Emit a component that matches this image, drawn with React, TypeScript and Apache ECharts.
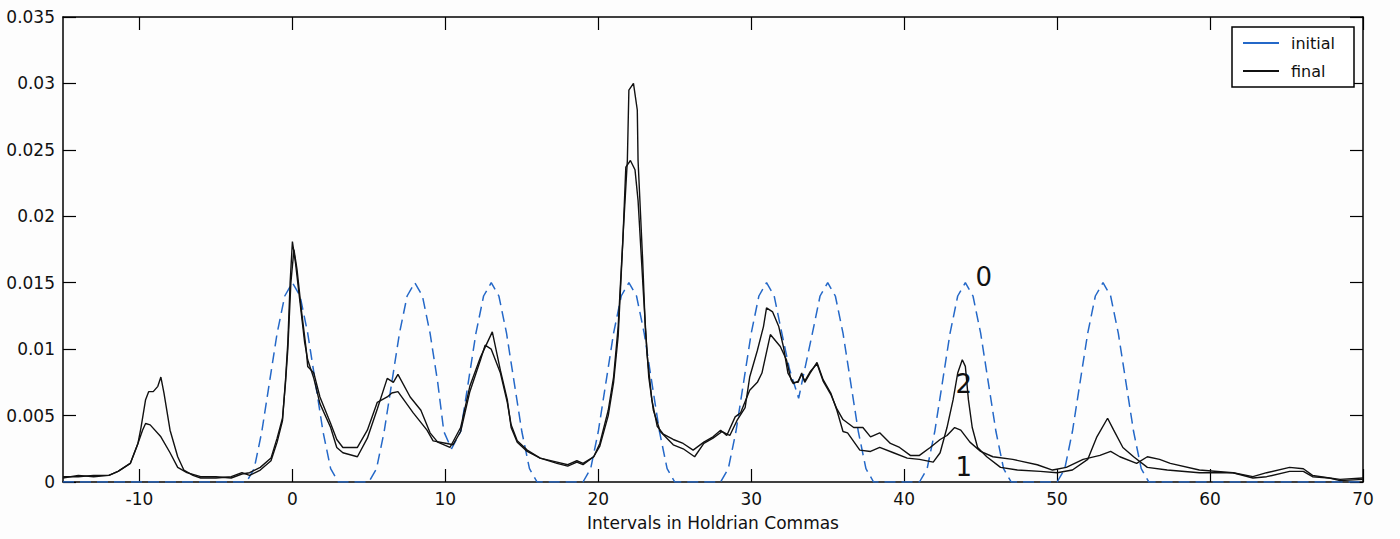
import React, { useEffect, useRef } from "react";
import * as echarts from "echarts";

const xTicks = [-10, 0, 10, 20, 30, 40, 50, 60, 70];

// initial distribution (blue dashed)
const initialPoints: [number, number][] = [
  [-15, 0], [-3, 0],
  [-2.5, 0.001], [-2, 0.0038], [-1.5, 0.0075], [-1, 0.0112], [-0.5, 0.014], [0, 0.015], [0.5, 0.014], [1, 0.0112], [1.5, 0.0075], [2, 0.0038], [2.5, 0.001], [3, 0],
  [5, 0], [5.5, 0.001], [6, 0.0038], [6.5, 0.0075], [7, 0.0112], [7.5, 0.014], [8, 0.015], [8.5, 0.014], [9, 0.0112], [9.5, 0.0075], [9.9, 0.0038], [10.4, 0.0025], [11, 0.0038], [11.5, 0.0075], [12, 0.0112], [12.5, 0.014], [13, 0.015], [13.5, 0.014], [14, 0.0112], [14.5, 0.0075], [15, 0.0038], [15.5, 0.001], [16, 0],
  [19, 0], [19.5, 0.001], [20, 0.0038], [20.5, 0.0075], [21, 0.0112], [21.5, 0.014], [22, 0.015], [22.5, 0.014], [23, 0.0112], [23.5, 0.0075], [24, 0.0038], [24.5, 0.001], [25, 0],
  [28, 0], [28.5, 0.001], [29, 0.0038], [29.5, 0.0075], [30, 0.0112], [30.5, 0.014], [31, 0.015], [31.5, 0.014], [32, 0.0112], [32.5, 0.0085], [33.1, 0.0063], [33.5, 0.0085], [34, 0.0112], [34.5, 0.014], [35, 0.015], [35.5, 0.014], [36, 0.0112], [36.5, 0.0075], [37, 0.0038], [37.5, 0.001], [38, 0],
  [41, 0], [41.5, 0.001], [42, 0.0038], [42.5, 0.0075], [43, 0.0112], [43.5, 0.014], [44, 0.015], [44.5, 0.014], [45, 0.0112], [45.5, 0.0075], [46, 0.0038], [46.5, 0.001], [47, 0],
  [50, 0], [50.5, 0.001], [51, 0.0038], [51.5, 0.0075], [52, 0.0112], [52.5, 0.014], [53, 0.015], [53.5, 0.014], [54, 0.0112], [54.5, 0.0075], [55, 0.0038], [55.5, 0.001], [56, 0],
  [70, 0],
];

// final distribution, curve labelled "2"
const final2Points: [number, number][] = [
  [-15, 0.0004], [-14, 0.0004], [-13, 0.0005], [-12, 0.0005], [-11.4, 0.0008], [-10.6, 0.0014], [-10.1, 0.0029], [-9.9, 0.0041], [-9.6, 0.0062], [-9.4, 0.0068], [-9.1, 0.0068], [-8.8, 0.0072], [-8.6, 0.0079], [-8.4, 0.0067], [-8.0, 0.0039], [-7.5, 0.0019], [-7.1, 0.0009], [-6.5, 0.0005], [-6, 0.0003], [-5, 0.0003], [-4, 0.0004], [-3.3, 0.0007], [-2.8, 0.0005], [-2.1, 0.0009], [-1.4, 0.0016], [-1.0, 0.003], [-0.65, 0.0046], [-0.45, 0.0077], [-0.3, 0.0105], [-0.15, 0.015], [0, 0.0181], [0.2, 0.0165], [0.5, 0.0135], [0.8, 0.0105], [1.0, 0.0092], [1.4, 0.0078], [1.8, 0.0059], [2.5, 0.0041], [2.9, 0.0026], [3.3, 0.0022], [4.25, 0.0019], [4.9, 0.0033], [5.55, 0.0055], [6.2, 0.0078], [6.6, 0.0075], [6.9, 0.0081], [7.7, 0.0064], [8.4, 0.0054], [9.0, 0.0037], [9.5, 0.003], [10.3, 0.0026], [11.0, 0.0041], [11.6, 0.0072], [12.3, 0.0094], [13.07, 0.0113], [13.6, 0.0084], [14.05, 0.0062], [14.3, 0.0041], [14.7, 0.003], [15.35, 0.0023], [16.2, 0.0018], [17.3, 0.0014], [18, 0.0012], [18.6, 0.0015], [19.0, 0.0013], [19.7, 0.0019], [20.1, 0.0029], [20.65, 0.0054], [21.0, 0.0079], [21.3, 0.0117], [21.65, 0.0192], [21.9, 0.0242], [22.0, 0.0295], [22.3, 0.030], [22.55, 0.028], [22.6, 0.0242], [22.9, 0.0167], [23.07, 0.0117], [23.3, 0.0079], [23.6, 0.0054], [24.05, 0.0038], [24.9, 0.0028], [25.55, 0.0025], [26.3, 0.0019], [26.9, 0.0029], [27.5, 0.0033], [28.1, 0.0038], [28.6, 0.0035], [29.1, 0.0047], [29.6, 0.0056], [29.9, 0.0079], [30.4, 0.0099], [30.8, 0.0117], [31.0, 0.0131], [31.4, 0.0128], [31.8, 0.0117], [32.1, 0.0102], [32.4, 0.0082], [32.75, 0.0075], [33.07, 0.0075], [33.3, 0.0082], [33.5, 0.0075], [33.85, 0.0082], [34.3, 0.009], [34.7, 0.0077], [35.2, 0.0067], [35.6, 0.0054], [36.0, 0.0038], [36.3, 0.0037], [37.1, 0.0024], [37.8, 0.0023], [38.4, 0.0026], [39.3, 0.0022], [40.2, 0.0018], [41, 0.0017], [41.9, 0.0015], [42.35, 0.0022], [42.8, 0.0041], [43.2, 0.0062], [43.5, 0.0082], [43.8, 0.0092], [44.0, 0.0087], [44.2, 0.0062], [44.45, 0.0041], [44.8, 0.0026], [45.4, 0.0019], [46.3, 0.0011], [47.4, 0.0009], [48.9, 0.0008], [50, 0.0007], [51, 0.0009], [52, 0.0017], [52.6, 0.0034], [53.3, 0.0048], [53.7, 0.0039], [54.3, 0.0026], [55, 0.0019], [55.9, 0.0011], [57.2, 0.0009], [59.3, 0.0007], [61.5, 0.0007], [62.8, 0.0003], [63.7, 0.0004], [65.2, 0.0008], [66.1, 0.0008], [66.7, 0.0004], [67.8, 0.0003], [68.5, 0.0001], [70, 0.0002],
];

// final distribution, curve labelled "1"
const final1Points: [number, number][] = [
  [-15, 0.0003], [-14, 0.0005], [-13, 0.0004], [-12, 0.0005], [-11.4, 0.0008], [-10.6, 0.0014], [-10.1, 0.0029], [-9.8, 0.0039], [-9.6, 0.0044], [-9.3, 0.0043], [-8.6, 0.0034], [-8.0, 0.0022], [-7.5, 0.0011], [-6.9, 0.0007], [-6, 0.0004], [-5, 0.0004], [-4, 0.0003], [-3.3, 0.0006], [-2.8, 0.0007], [-2.1, 0.0011], [-1.4, 0.0018], [-1.0, 0.0033], [-0.65, 0.0048], [-0.45, 0.0075], [-0.3, 0.01], [-0.1, 0.015], [0.1, 0.0175], [0.3, 0.016], [0.6, 0.0128], [0.9, 0.01], [1.0, 0.0087], [1.4, 0.0082], [1.8, 0.0064], [2.5, 0.0044], [2.9, 0.0032], [3.3, 0.0026], [4.25, 0.0026], [4.9, 0.0039], [5.55, 0.006], [6.2, 0.0064], [6.5, 0.0067], [6.9, 0.0068], [7.9, 0.0052], [8.8, 0.0039], [9.2, 0.0031], [10.1, 0.0029], [10.5, 0.0028], [11.0, 0.0038], [11.6, 0.0068], [12.3, 0.0092], [12.6, 0.0103], [13.0, 0.01], [13.6, 0.0082], [14.05, 0.006], [14.3, 0.0043], [14.7, 0.0031], [15.35, 0.0024], [16.2, 0.0018], [17.3, 0.0015], [18, 0.0013], [18.6, 0.0016], [19.0, 0.0014], [19.7, 0.0019], [20.1, 0.0027], [20.65, 0.005], [21.0, 0.0075], [21.3, 0.011], [21.6, 0.018], [21.8, 0.0237], [22.1, 0.0242], [22.4, 0.0235], [22.6, 0.0212], [22.95, 0.0142], [23.2, 0.0095], [23.5, 0.0062], [23.85, 0.0042], [24.25, 0.0036], [24.9, 0.0032], [25.55, 0.0029], [26.2, 0.0024], [26.9, 0.003], [27.5, 0.0034], [28.0, 0.0039], [28.4, 0.0035], [28.95, 0.0049], [29.3, 0.0052], [29.9, 0.0069], [30.4, 0.0075], [30.7, 0.0082], [31.25, 0.0111], [31.9, 0.0102], [32.3, 0.0092], [32.6, 0.0077], [32.75, 0.0074], [33.07, 0.0076], [33.3, 0.0081], [33.5, 0.0076], [33.85, 0.0083], [34.3, 0.0089], [34.7, 0.0076], [35.2, 0.0066], [35.6, 0.0055], [36.0, 0.0047], [36.7, 0.0041], [37.3, 0.0041], [37.8, 0.0034], [38.4, 0.0037], [39.1, 0.0029], [39.7, 0.0026], [40.4, 0.002], [41.0, 0.002], [41.7, 0.0026], [42.35, 0.0032], [42.8, 0.0035], [43.3, 0.0041], [43.7, 0.0039], [44.3, 0.003], [45, 0.0023], [45.8, 0.0019], [47.1, 0.0017], [48.7, 0.0013], [49.7, 0.0009], [50.6, 0.0011], [51.7, 0.0017], [52.8, 0.002], [53.5, 0.0023], [54.1, 0.0019], [55.2, 0.0014], [55.9, 0.0019], [56.7, 0.0017], [57.4, 0.0014], [59.3, 0.0009], [61.5, 0.0007], [62.8, 0.0004], [63.7, 0.0007], [65.2, 0.0011], [66.1, 0.001], [66.7, 0.0005], [67.8, 0.0003], [68.5, 0.0002], [70, 0.0003],
];

// curve annotations (text, data x, data y)
const annotationLabels = ["0", "2", "1"];
const annotationX = [45.2, 43.9, 43.9];
const annotationY = [0.01544, 0.0074, 0.0011];

const FONT = "DejaVu Sans";
const BLUE = "#2468c8";
const BLACK = "#111";
const LINE_ICON = "path://M0,0 L30,0 L30,1.5 L0,1.5 Z";

export default function App() {
  const ref = useRef<HTMLDivElement>(null);
  useEffect(() => {
    if (!ref.current) return;
    const chart = echarts.init(ref.current, null, { renderer: "svg" });
    const axisLine = { show: true, onZero: false, lineStyle: { color: "#000", width: 1.5 } };
    const tickStyle = { color: "#000", width: 1.2 };
    const option: any = {
      animation: false,
      backgroundColor: "#fdfdfd",
      textStyle: { fontFamily: FONT },
      grid: { left: 63, right: 37, top: 17, bottom: 57, outerBoundsMode: "none", containLabel: false },
      legend: {
        orient: "vertical",
        right: 46,
        top: 27,
        itemWidth: 36,
        itemHeight: 14,
        itemGap: 12,
        padding: [8, 19, 8, 11],
        borderColor: "#000",
        borderWidth: 1.5,
        borderRadius: 0,
        backgroundColor: "#fff",
        selectedMode: false,
        textStyle: { fontSize: 16, color: BLACK, fontFamily: FONT, padding: [0, 0, 0, 7] },
        data: [
          { name: "initial", icon: LINE_ICON, itemStyle: { color: BLUE } },
          { name: "final", icon: LINE_ICON, itemStyle: { color: BLACK } },
        ],
      },
      xAxis: [
        {
          type: "value",
          min: -15,
          max: 70,
          position: "bottom",
          axisLine,
          axisTick: { show: true, inside: true, length: 13, customValues: xTicks, lineStyle: tickStyle },
          axisLabel: { customValues: xTicks, margin: 8, fontSize: 17, color: BLACK, fontFamily: FONT },
          splitLine: { show: false },
          name: "Intervals in Holdrian Commas",
          nameLocation: "middle",
          nameGap: 32,
          nameTextStyle: { fontSize: 17, color: BLACK, fontFamily: FONT },
        },
        {
          type: "value",
          min: -15,
          max: 70,
          position: "top",
          axisLine,
          axisTick: { show: true, inside: true, length: 13, customValues: xTicks, lineStyle: tickStyle },
          axisLabel: { show: false },
          splitLine: { show: false },
        },
      ],
      yAxis: [
        {
          type: "value",
          min: 0,
          max: 0.035,
          interval: 0.005,
          position: "left",
          axisLine,
          axisTick: { show: true, inside: true, length: 13, lineStyle: tickStyle },
          axisLabel: { margin: 8, fontSize: 17, color: BLACK, fontFamily: FONT },
          splitLine: { show: false },
        },
        {
          type: "value",
          min: 0,
          max: 0.035,
          interval: 0.005,
          position: "right",
          axisLine,
          axisTick: { show: true, inside: true, length: 13, lineStyle: tickStyle },
          axisLabel: { show: false },
          splitLine: { show: false },
        },
      ],
      series: [
        {
          name: "initial",
          type: "line",
          xAxisIndex: 0,
          yAxisIndex: 0,
          data: initialPoints,
          symbol: "none",
          lineStyle: { color: BLUE, width: 1.5, type: [11, 6] },
          itemStyle: { color: BLUE },
          z: 2,
        },
        {
          name: "final",
          type: "line",
          xAxisIndex: 0,
          yAxisIndex: 0,
          data: final2Points,
          symbol: "none",
          lineStyle: { color: BLACK, width: 1.4 },
          itemStyle: { color: BLACK },
          z: 3,
        },
        {
          name: "final",
          type: "line",
          xAxisIndex: 0,
          yAxisIndex: 0,
          data: final1Points,
          symbol: "none",
          lineStyle: { color: BLACK, width: 1.4 },
          itemStyle: { color: BLACK },
          z: 3,
        },
      ],
    };
    chart.setOption(option);
    const graphics = annotationLabels.map((t, i) => {
      const p = chart.convertToPixel({ xAxisIndex: 0, yAxisIndex: 0 }, [annotationX[i], annotationY[i]]) as number[];
      return {
        type: "text",
        x: p[0],
        y: p[1],
        z: 10,
        style: {
          text: t,
          fontSize: 26,
          fontFamily: FONT,
          fill: BLACK,
          align: "center",
          verticalAlign: "middle",
        },
      };
    });
    chart.setOption({ graphic: graphics });
    return () => chart.dispose();
  }, []);
  return (
    <div
      ref={ref}
      style={{ position: "fixed", left: 0, top: 0, width: 1400, height: 539 }}
    />
  );
}
